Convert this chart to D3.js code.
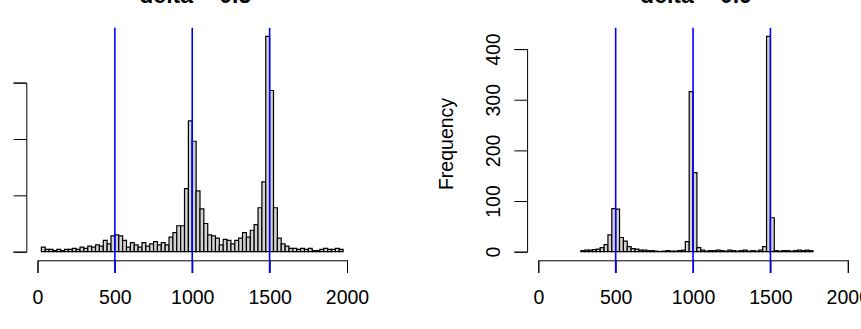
<!DOCTYPE html>
<html>
<head>
<meta charset="utf-8">
<script src="https://cdn.jsdelivr.net/npm/d3@7"></script>
<style>
  body { margin: 0; background: #fff; }
  svg { font-family: "Liberation Sans", Arial, sans-serif; display: block; }
</style>
</head>
<body>
<svg id="svg" width="861" height="329"></svg>
<script>
// histogram breaks: width 25, first bin start per panel
const binWidth = 25;
const leftStart = 25;
const leftCounts = [
  4, 2, 2, 1, 2, 1, 2, 2, 3, 2,
  4, 3, 5, 4, 6, 5, 10, 7, 14, 15,
  14, 10, 4, 8, 6, 4, 8, 5, 7, 9,
  6, 8, 6, 13, 17, 23, 23, 56, 116, 98,
  54, 38, 25, 15, 14, 12, 6, 11, 10, 7,
  10, 12, 17, 13, 19, 24, 39, 62, 191, 143,
  39, 12, 7, 5, 3, 3, 2, 3, 2, 3,
  1, 1, 2, 3, 2, 2, 3, 2
];
const rightStart = 275;
const rightCounts = [
  2, 3, 3, 4, 5, 8, 14, 33, 85, 84,
  28, 21, 10, 6, 5, 3, 3, 2, 2, 1,
  0, 1, 2, 1, 1, 2, 3, 20, 316, 156,
  8, 3, 1, 2, 2, 3, 2, 1, 3, 2,
  1, 2, 3, 1, 2, 1, 3, 10, 425, 67,
  2, 1, 2, 2, 1, 2, 3, 2, 3, 2
];
const xTicks = [0, 500, 1000, 1500, 2000];
const leftYTicks = [0, 50, 100, 150];
const rightYTicks = [0, 100, 200, 300, 400];
const refLines = [500, 1000, 1500];
const titles = ["delta = 0.5", "delta = 0.9"];

const svg = d3.select("#svg");
const fontSize = 19.5;

function drawPanel(counts, start, yTicks, title, x0px, showYLabels) {
  const bins = counts.map((n, i) => ({ x0: start + i * binWidth, x1: start + (i + 1) * binWidth, n: n }));
  const maxN = d3.max(counts);

  const x = d3.scaleLinear().domain([0, 2000]).range([x0px, x0px + 309.5]);
  // R pads the y range by 4% on each side
  const y = d3.scaleLinear().domain([-0.04 * maxN, 1.04 * maxN]).range([260.3, 27.8]);
  const yAxisX = x(0) - 11.2;

  const g = svg.append("g");

  g.append("text")
    .attr("x", (x(-80) + x(2080)) / 2 + 3)
    .attr("y", 3)
    .attr("text-anchor", "middle")
    .style("font-size", "23px")
    .style("font-weight", "bold")
    .text(title);

  g.selectAll(".bar")
    .data(bins)
    .enter()
    .append("path")
    .attr("class", "bar")
    .attr("d", d => `M${x(d.x0)},${y(0)}V${y(d.n)}H${x(d.x1)}V${y(0)}Z`)
    .attr("fill", "#d3d3d3")
    .attr("stroke", "#000")
    .attr("stroke-width", 1.2);

  const xAxis = g.append("g")
    .attr("transform", "translate(0, 260.3)")
    .call(d3.axisBottom(x).tickValues(xTicks).tickSize(12.7).tickSizeOuter(12.7).tickFormat(d3.format("d")));
  xAxis.selectAll("text")
    .attr("y", 43.7)
    .attr("dy", null)
    .style("font-size", fontSize + "px")
    .attr("fill", "#000");

  const yAxisScale = d3.scaleLinear()
    .domain([yTicks[0], yTicks[yTicks.length - 1]])
    .range([y(yTicks[0]), y(yTicks[yTicks.length - 1])]);
  const yAxis = g.append("g")
    .attr("transform", `translate(${yAxisX}, 0)`)
    .call(d3.axisLeft(yAxisScale).tickValues(yTicks).tickSize(12.7).tickSizeOuter(12.7)
      .tickFormat(showYLabels ? d3.format("d") : () => ""));
  yAxis.selectAll("text")
    .attr("x", null)
    .attr("dy", null)
    .attr("text-anchor", "middle")
    .attr("transform", "translate(-27.3, 0) rotate(-90)")
    .style("font-size", fontSize + "px")
    .attr("fill", "#000");

  [xAxis, yAxis].forEach(a => a.selectAll("path, line").attr("stroke", "#000").attr("stroke-width", 1));

  if (showYLabels) {
    g.append("text")
      .attr("transform", `translate(${yAxisX - 74.3}, 144) rotate(-90)`)
      .attr("text-anchor", "middle")
      .style("font-size", fontSize + "px")
      .text("Frequency");
  }

  g.selectAll(".ref")
    .data(refLines)
    .enter()
    .append("line")
    .attr("class", "ref")
    .attr("x1", d => x(d))
    .attr("x2", d => x(d))
    .attr("y1", y.range()[1])
    .attr("y2", 273)
    .attr("stroke", "blue")
    .attr("stroke-width", 1.6);
}

drawPanel(leftCounts, leftStart, leftYTicks, titles[0], 37.5, false);
drawPanel(rightCounts, rightStart, rightYTicks, titles[1], 538.3, true);
</script>
</body>
</html>
